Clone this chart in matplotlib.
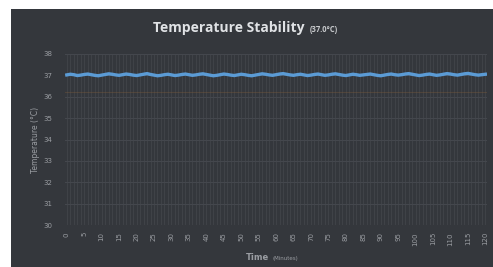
import matplotlib
matplotlib.use('Agg')
import matplotlib.pyplot as plt
from matplotlib.patches import Rectangle

# Temperature readings, one per minute
minutes = list(range(0, 121))
temps = [37.02, 37.05, 37.03, 36.99, 37.01, 37.04, 37.06, 37.03, 37.00, 36.98,
         37.01, 37.04, 37.07, 37.05, 37.02, 37.00, 37.03, 37.06, 37.04, 37.01,
         36.99, 37.02, 37.05, 37.08, 37.04, 37.01, 36.98, 37.00, 37.03, 37.05,
         37.02, 36.99, 37.01, 37.04, 37.06, 37.03, 37.00, 37.02, 37.05, 37.07,
         37.04, 37.01, 36.98, 37.00, 37.03, 37.06, 37.04, 37.01, 36.99, 37.02,
         37.05, 37.03, 37.00, 36.98, 37.01, 37.04, 37.07, 37.05, 37.02, 37.00,
         37.03, 37.06, 37.08, 37.05, 37.02, 37.00, 37.03, 37.05, 37.02, 36.99,
         37.01, 37.04, 37.06, 37.03, 37.00, 37.02, 37.05, 37.07, 37.04, 37.01,
         36.99, 37.02, 37.05, 37.03, 37.00, 37.02, 37.04, 37.06, 37.03, 37.00,
         36.98, 37.01, 37.04, 37.06, 37.03, 37.01, 37.03, 37.06, 37.08, 37.05,
         37.02, 36.99, 37.01, 37.04, 37.06, 37.03, 37.00, 37.02, 37.05, 37.08,
         37.06, 37.03, 37.01, 37.04, 37.07, 37.09, 37.06, 37.03, 37.01, 37.03,
         37.05]
lower_limit = 36.2
y_ticks = list(range(30, 39))
x_ticks = list(range(0, 121, 5))

bg = '#34373c'
txt = '#9a9da2'

fig = plt.figure(figsize=(4.93, 2.67), dpi=100, facecolor='white')
fig.patches.append(Rectangle((11 / 493, 0), 1, 1 - 9 / 267,
                             transform=fig.transFigure, facecolor=bg,
                             edgecolor='none', zorder=-1))

ax = fig.add_axes([0.132, 0.157, 0.856, 0.641])
ax.set_zorder(2)
ax.set_facecolor(bg)
for s in ax.spines.values():
    s.set_visible(False)

# faint per-minute gridlines
for m in minutes:
    ax.axvline(m, color='#4a4d53', lw=0.6, alpha=0.6, zorder=1)
for y in y_ticks:
    ax.axhline(y, color='#44474d', lw=0.8, zorder=1)

ax.axhline(lower_limit, color='#7a5a3a', lw=0.8, alpha=0.4, zorder=2)
ax.plot(minutes, temps, color='#5b9bd5', lw=2.4, zorder=3)

ax.set_xlim(-0.5, 120.5)
ax.set_ylim(30, 38)
ax.set_yticks(y_ticks)
ax.set_yticklabels([str(v) for v in y_ticks], fontsize=5, color=txt)
ax.set_xticks(x_ticks)
ax.set_xticklabels([str(v) for v in x_ticks], fontsize=5, color=txt,
                   rotation=90)
ax.tick_params(axis='y', length=0, pad=9)
ax.tick_params(axis='x', length=0, pad=5)

fig.text(0.465, 0.895, 'Temperature Stability', ha='center', va='center',
         fontsize=10, fontweight='bold', color='#e0e2e5', family='Open Sans',
         zorder=3)
fig.text(0.628, 0.890, '(37.0\u00b0C)', ha='left', va='center',
         fontsize=5.5, fontweight='bold', color='#c8cacd', family='Open Sans',
         zorder=3)

fig.text(0.071, 0.476, 'Temperature (\u00b0C)', ha='center', va='center',
         rotation=90, fontsize=5.5, color=txt, zorder=3)
fig.text(0.545, 0.034, 'Time', ha='right', va='center', fontsize=6,
         fontweight='bold', color=txt, zorder=3)
fig.text(0.553, 0.032, '(Minutes)', ha='left', va='center', fontsize=4,
         color=txt, zorder=3)

fig.savefig('out.png', dpi=100, facecolor='white')
